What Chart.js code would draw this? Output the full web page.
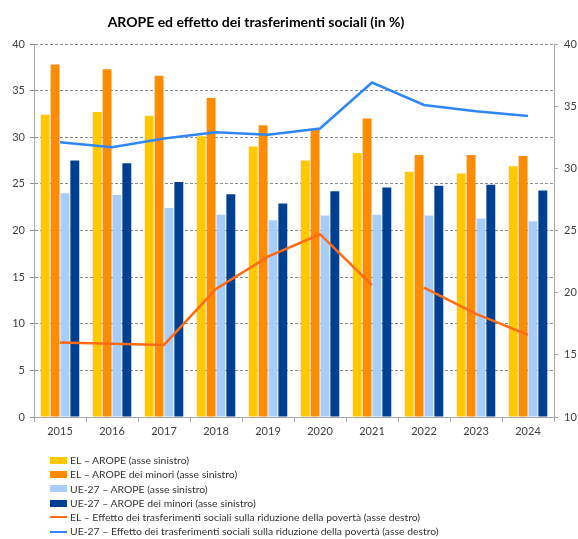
<!DOCTYPE html>
<html>
<head>
<meta charset="utf-8">
<script src="https://cdn.jsdelivr.net/npm/chart.js@4.4.1/dist/chart.umd.min.js"></script>
<style>
  html, body { margin: 0; padding: 0; background: #fff; overflow: hidden; }
  #wrap { position: relative; width: 578px; height: 539px; }
  #title {
    position: absolute; left: 0; top: 13px; width: 512px; text-align: center;
    font: bold 14px Lato, sans-serif; color: #000;
  }
  #legend {
    position: absolute; left: 50px; top: 453px; margin: 0; padding: 0; list-style: none;
    font: 10.4px Lato, sans-serif; color: #333;
  }
  #legend li { height: 14.3px; line-height: 14.3px; display: flex; align-items: center; }
  #legend .sw { width: 17px; margin-right: 3px; }
</style>
</head>
<body>
<div id="wrap">
  <canvas id="chart" width="578" height="539"></canvas>
  <div id="title">AROPE ed effetto dei trasferimenti sociali (in %)</div>
  <ul id="legend"></ul>
</div>
<script>
const years = ["2015", "2016", "2017", "2018", "2019", "2020", "2021", "2022", "2023", "2024"];

// asse sinistro
const elArope = [32.4, 32.7, 32.3, 30.1, 29.0, 27.5, 28.3, 26.3, 26.1, 26.9];
const elAropeMinori = [37.8, 37.3, 36.6, 34.2, 31.3, 30.9, 32.0, 28.1, 28.1, 28.0];
const ueArope = [24.0, 23.8, 22.4, 21.7, 21.1, 21.6, 21.7, 21.6, 21.3, 21.0];
const ueAropeMinori = [27.5, 27.2, 25.2, 23.9, 22.9, 24.2, 24.6, 24.8, 24.9, 24.3];

// asse destro
const elEffetto = [16.0, 15.9, 15.8, 20.3, 22.9, 24.7, 20.6, 20.4, 18.3, 16.6];
const ueEffetto = [32.1, 31.7, 32.4, 32.9, 32.7, 33.2, 36.9, 35.1, 34.6, 34.2];

const elBreak = 6; // interruzione della serie tra 2021 e 2022

const gridColor = "#8c8c8c";
const axisColor = "#a6a6a6";
const textColor = "#404040";
const orangeLine = "#ff6a13";

const bar = (label, data, color) => ({
  type: "bar", label, data, backgroundColor: color, yAxisID: "y", order: 1,
  categoryPercentage: 0.76, barPercentage: 0.9
});

const chart = new Chart(document.getElementById("chart"), {
  data: {
    labels: years,
    datasets: [
      bar("EL – AROPE (asse sinistro)", elArope, "#ffc800"),
      bar("EL – AROPE dei minori (asse sinistro)", elAropeMinori, "#ff8c00"),
      bar("UE-27 – AROPE (asse sinistro)", ueArope, "#a9cdfb"),
      bar("UE-27 – AROPE dei minori (asse sinistro)", ueAropeMinori, "#003f91"),
      {
        type: "line", label: "EL – Effetto dei trasferimenti sociali sulla riduzione della povertà (asse destro)",
        data: elEffetto, borderColor: orangeLine, backgroundColor: orangeLine, borderWidth: 2.5,
        pointRadius: 0, yAxisID: "y1", order: 0,
        segment: { borderColor: ctx => ctx.p0DataIndex === elBreak ? "rgba(0,0,0,0)" : orangeLine }
      },
      {
        type: "line", label: "UE-27 – Effetto dei trasferimenti sociali sulla riduzione della povertà (asse destro)",
        data: ueEffetto, borderColor: "#2f86f6", backgroundColor: "#2f86f6", borderWidth: 2.5,
        pointRadius: 0, yAxisID: "y1", order: 0
      }
    ]
  },
  options: {
    responsive: false,
    animation: false,
    layout: { padding: { top: 44, bottom: 98, left: 0, right: 0 } },
    plugins: {
      legend: { display: false },
      title: { display: false },
      tooltip: { enabled: false }
    },
    scales: {
      x: {
        afterFit: s => { s.height = 24; },
        grid: { drawOnChartArea: false, offset: true, tickLength: 5, color: axisColor },
        border: { color: axisColor },
        ticks: { color: textColor, font: { family: "Lato", size: 11 }, padding: 3 }
      },
      y: {
        position: "left", min: 0, max: 40,
        afterFit: s => { s.width = 34; },
        grid: { color: gridColor, tickLength: 4 },
        border: { color: axisColor, dash: [3, 2] },
        ticks: { stepSize: 5, color: textColor, font: { family: "Lato", size: 11 }, padding: 5 }
      },
      y1: {
        position: "right", min: 10, max: 40,
        afterFit: s => { s.width = 24; },
        grid: { drawOnChartArea: false, tickLength: 4, color: axisColor },
        border: { color: axisColor },
        ticks: { stepSize: 5, color: textColor, font: { family: "Lato", size: 11 }, padding: 6 }
      }
    }
  }
});

// legenda verticale, come nell'originale
const legend = document.getElementById("legend");
chart.data.datasets.forEach(ds => {
  const li = document.createElement("li");
  const sw = document.createElement("span");
  sw.className = "sw";
  if (ds.type === "bar") {
    sw.style.height = "7px";
    sw.style.background = ds.backgroundColor;
  } else {
    sw.style.height = "2px";
    sw.style.background = ds.borderColor;
  }
  li.appendChild(sw);
  li.appendChild(document.createTextNode(ds.label));
  legend.appendChild(li);
});
</script>
</body>
</html>
